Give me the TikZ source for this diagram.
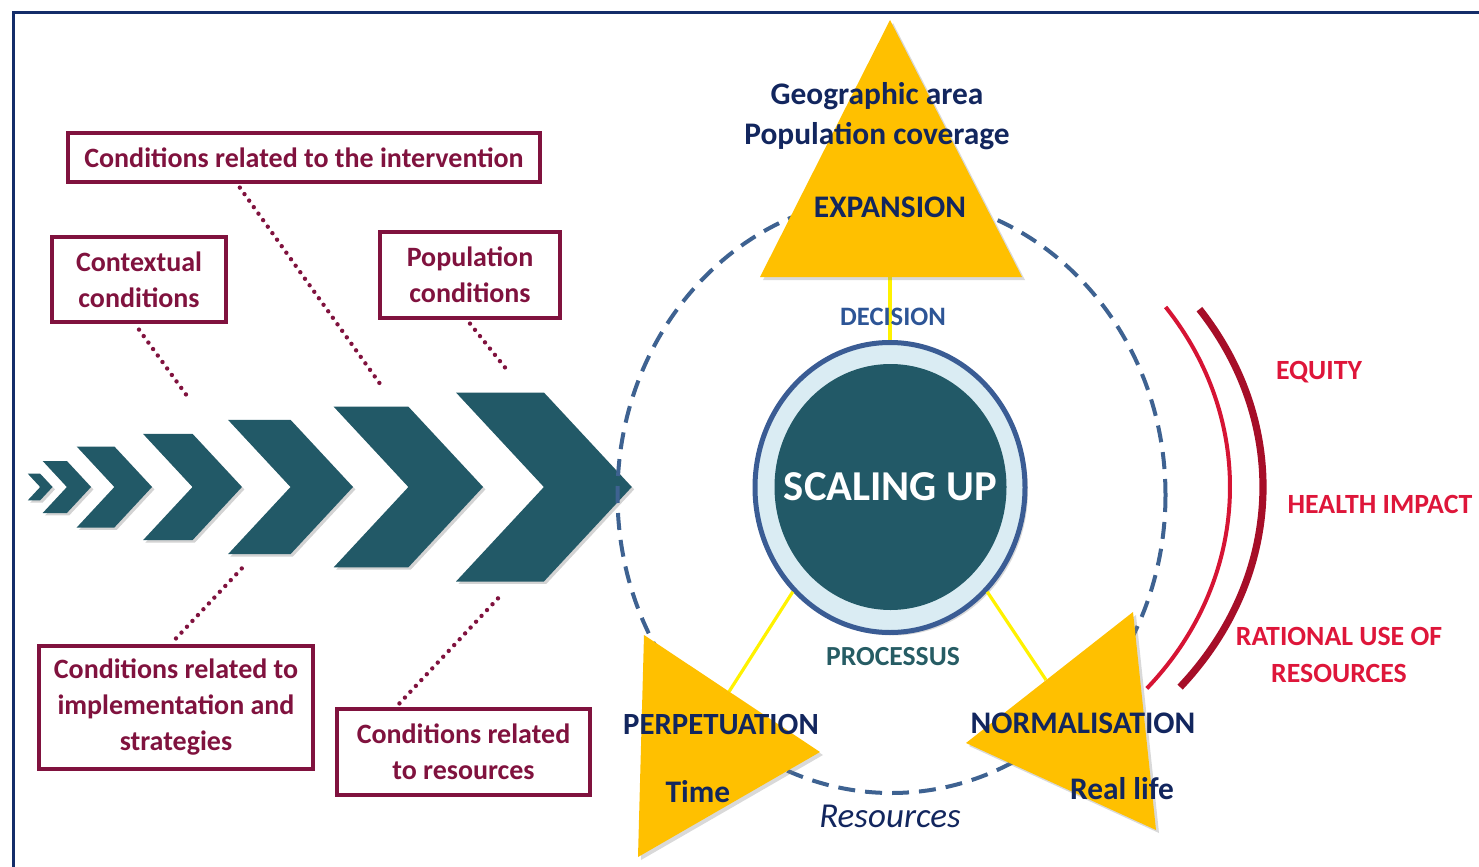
\documentclass[tikz,border=0pt]{standalone}
\usepackage{fontspec}
\setmainfont{Carlito}
\usetikzlibrary{shapes.geometric,shadows,calc}
\definecolor{frameblue}{RGB}{20,45,105}
\definecolor{boxred}{RGB}{128,18,62}
\definecolor{chevteal}{RGB}{34,89,103}
\definecolor{ringdash}{RGB}{62,98,145}
\definecolor{ringblue}{RGB}{58,92,148}
\definecolor{paleblue}{RGB}{218,236,243}
\definecolor{trigold}{RGB}{255,192,0}
\definecolor{navytxt}{RGB}{18,38,94}
\definecolor{decblue}{RGB}{45,85,150}
\definecolor{proteal}{RGB}{38,92,100}
\definecolor{eqred}{RGB}{222,22,58}
\definecolor{arcred}{RGB}{214,20,52}
\definecolor{arcdark}{RGB}{166,14,40}
\tikzset{%
    box/.style={draw=boxred,line width=1.6pt,text=boxred,align=center,inner sep=0pt,
        font=\bfseries\fontsize{14}{18}\selectfont},
    dots/.style={boxred,line width=2.2pt,line cap=round,dash pattern=on 0pt off 4pt},
    chev/.style={fill=chevteal,drop shadow={opacity=0.35,shadow xshift=1.2pt,shadow yshift=-1.2pt}},
    tri/.style={fill=trigold,drop shadow={opacity=0.3,shadow xshift=1.5pt,shadow yshift=-1.5pt}},
    link/.style={yellow,line width=1.6pt},
    ring/.style={ringdash,line width=2pt,dash pattern=on 8.5pt off 5pt},
    lbl/.style={text=navytxt,align=center,inner sep=0pt,font=\bfseries\fontsize{15.7}{20}\selectfont},
    goal/.style={text=eqred,align=center,inner sep=0pt,font=\bfseries\fontsize{13.9}{18.5}\selectfont}
}
\begin{document}
\begin{tikzpicture}[x=0.5pt,y=-0.5pt]
    \useasboundingbox (0,0) rectangle (1479,867);
    \draw[frameblue,line width=1.5pt] (13,867) -- (13,12) -- (1479,12);

    \foreach \x/\h in {27.8/13.3, 42.7/26, 76.7/40.5, 143/53.2, 228/67.2, 333.7/80.3, 456/94.5}{
        \pgfmathsetmacro{\dep}{0.93*\h}
        \fill[chev] (\x,487-\h) -- ++(\dep,0) -- ++(\dep,\h) -- ++(-\dep,\h) -- ++(-\dep,0) -- ++(\dep,-\h) -- cycle;
    }

    \node[box,minimum width=236pt,minimum height=24.5pt] (interv) at (304,157.5) {Conditions related to the intervention};
    \node[box,minimum width=87pt,minimum height=42.5pt] (ctx) at (139,279.5) {Contextual\\conditions};
    \node[box,minimum width=90pt,minimum height=43pt] (popul) at (470,275) {Population\\conditions};
    \node[box,minimum width=137pt,minimum height=61.5pt] (impl) at (176,707.5) {Conditions related to\\implementation and\\strategies};
    \node[box,minimum width=126.5pt,minimum height=43pt] (rsrc) at (463.5,752) {Conditions related\\to resources};

    \coordinate (chv-a) at (383,388);
    \coordinate (chv-b) at (190,400);
    \coordinate (chv-c) at (507,370);
    \coordinate (chv-d) at (245,565);
    \coordinate (chv-e) at (503,593);
    \draw[dots] ($(interv.south west)!0.365!(interv.south east)+(0,4)$) -- (chv-a);
    \draw[dots] ([yshift=-3pt]ctx.south) -- (chv-b);
    \draw[dots] ([yshift=-2pt]popul.south) -- (chv-c);
    \draw[dots] ([yshift=3pt]impl.north) -- (chv-d);
    \draw[dots] ($(rsrc.north west)!0.25!(rsrc.north east)+(0,-4)$) -- (chv-e);

    \draw[ring] (891.5,495) ellipse [x radius=274, y radius=298];

    \node[ellipse,draw=ringblue,line width=2.5pt,fill=paleblue,minimum width=135pt,minimum height=145pt,
        inner sep=0pt,drop shadow={opacity=0.3,shadow xshift=1.5pt,shadow yshift=-1.5pt}] (core) at (890,487.5) {};
    \node[ellipse,fill=chevteal,minimum width=116pt,minimum height=123pt,inner sep=0pt] (disk) at (890.5,487) {};
    \node[text=white,font=\bfseries\fontsize{21.3}{24}\selectfont,inner sep=0pt] (scale) at (disk) {SCALING UP};

    \coordinate (exp-a) at (890,20);
    \coordinate (exp-b) at (1022,277);
    \coordinate (exp-c) at (760,277);
    \coordinate (exp-foot) at (890,277);
    \coordinate (perp-a) at (644,635);
    \coordinate (perp-b) at (820,752);
    \coordinate (perp-c) at (638,857);
    \coordinate (perp-hook) at (729,691.7);
    \coordinate (norm-a) at (1133,612);
    \coordinate (norm-b) at (1156,830);
    \coordinate (norm-c) at (966,743);
    \coordinate (norm-hook) at (1046,680);

    \draw[link] (exp-foot) -- (core.north);
    \draw[link] (core.227) -- (perp-hook);
    \draw[link] (core.313) -- (norm-hook);

    \fill[tri] (exp-a) -- (exp-b) -- (exp-c) -- cycle;
    \fill[tri] (perp-a) -- (perp-b) -- (perp-c) -- cycle;
    \fill[tri] (norm-a) -- (norm-b) -- (norm-c) -- cycle;

    \draw[arcred,line width=2pt] (891,487) ++(-35.9:339 and 307) arc[start angle=-35.9,end angle=41,x radius=339,y radius=307];
    \draw[arcdark,line width=3.6pt] (891,487) ++(-34:372 and 318) arc[start angle=-34,end angle=39,x radius=372,y radius=318];

    \node[lbl] (geo) at (877,116) {Geographic area\\Population coverage};
    \node[lbl] (expn) at (890,207) {EXPANSION};
    \node[lbl,text=decblue,font=\bfseries\fontsize{13.3}{16}\selectfont] (decis) at (893,317) {DECISION};
    \node[lbl,text=proteal,font=\bfseries\fontsize{13.8}{16}\selectfont] (proc) at (893,657) {PROCESSUS};
    \node[lbl,font=\bfseries\fontsize{15.4}{18}\selectfont] (perp) at (721,725) {PERPETUATION};
    \node[lbl] (time) at (698,792) {Time};
    \node[lbl] (norm) at (1083,723) {NORMALISATION};
    \node[lbl] (life) at (1122,789) {Real life};
    \node[lbl,font=\itshape\fontsize{17.5}{20}\selectfont] (res) at (890,816) {Resources};

    \node[goal] (equity) at (1319,372) {EQUITY};
    \node[goal] (health) at (1380,504) {HEALTH IMPACT};
    \node[goal] (ration) at (1339,655) {RATIONAL USE OF\\RESOURCES};
\end{tikzpicture}
\end{document}
